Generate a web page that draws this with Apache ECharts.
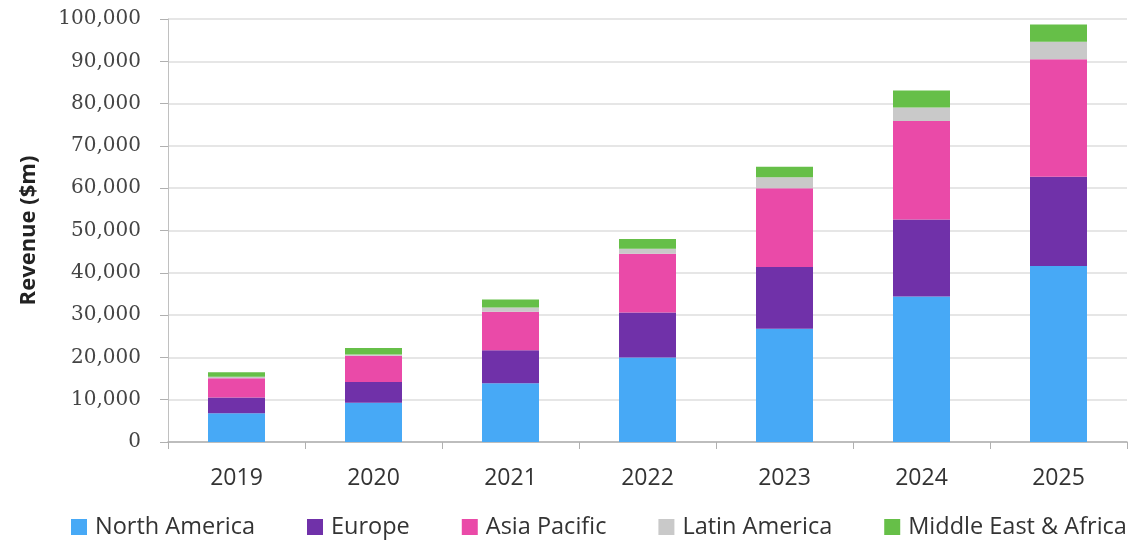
<!DOCTYPE html>
<html>
<head>
<meta charset="utf-8">
<script src="https://cdn.jsdelivr.net/npm/echarts@6/dist/echarts.min.js"></script>
<style>html,body{margin:0;padding:0;background:#fff}#c{width:1132px;height:544px}</style>
</head>
<body>
<div id="c"></div>
<script>
const years = ['2019','2020','2021','2022','2023','2024','2025'];
const northAmerica = [6800, 9300, 13900, 20000, 26800, 34400, 41600];
const europe = [3700, 4900, 7800, 10600, 14600, 18200, 21100];
const asiaPacific = [4600, 6200, 9100, 13900, 18600, 23300, 27800];
const latinAmerica = [300, 300, 1000, 1200, 2600, 3200, 4100];
const middleEastAfrica = [1100, 1500, 1900, 2300, 2500, 4000, 4100];
const seriesNames = ['North America','Europe','Asia Pacific','Latin America','Middle East & Africa'];
const colors = ['#47a9f6','#7031a9','#ea4aa8','#c9c9c9','#66bf48'];
const values = [northAmerica, europe, asiaPacific, latinAmerica, middleEastAfrica];

const chart = echarts.init(document.getElementById('c'));
chart.setOption({
  animation: false,
  color: colors,
  legend: {
    bottom: 0, left: 66,
    itemWidth: 16, itemHeight: 16, itemGap: 52,
    icon: 'rect',
    textStyle: { fontFamily: 'Open Sans', fontSize: 23.5, color: '#333', padding: [0, 0, 0, 3] },
    data: seriesNames
  },
  grid: { left: 168, right: 5, top: 19, bottom: 102 },
  xAxis: {
    type: 'category', data: years,
    axisLine: { lineStyle: { color: '#b0b0b0', width: 1.5 } },
    axisTick: { show: true, length: 7, lineStyle: { color: '#b0b0b0' } },
    axisLabel: { fontFamily: 'Open Sans', fontSize: 23, color: '#333', margin: 25 }
  },
  yAxis: {
    type: 'value', min: 0, max: 100000, interval: 10000,
    name: 'Revenue ($m)', nameLocation: 'middle', nameGap: 128,
    nameTextStyle: { fontFamily: 'Open Sans', fontWeight: 'bold', fontSize: 22, color: '#222' },
    axisLine: { show: true, lineStyle: { color: '#c0c0c0' } },
    axisTick: { show: true, length: 8, lineStyle: { color: '#b0b0b0' } },
    splitLine: { lineStyle: { color: '#dedede', width: 1.5 } },
    axisLabel: {
      fontFamily: 'DejaVu Serif', fontSize: 20, color: '#444', margin: 27,
      formatter: v => v.toLocaleString('en-US')
    }
  },
  series: seriesNames.map((n, i) => ({
    name: n, type: 'bar', stack: 'total', barWidth: 57,
    data: values[i]
  }))
});
</script>
</body>
</html>
